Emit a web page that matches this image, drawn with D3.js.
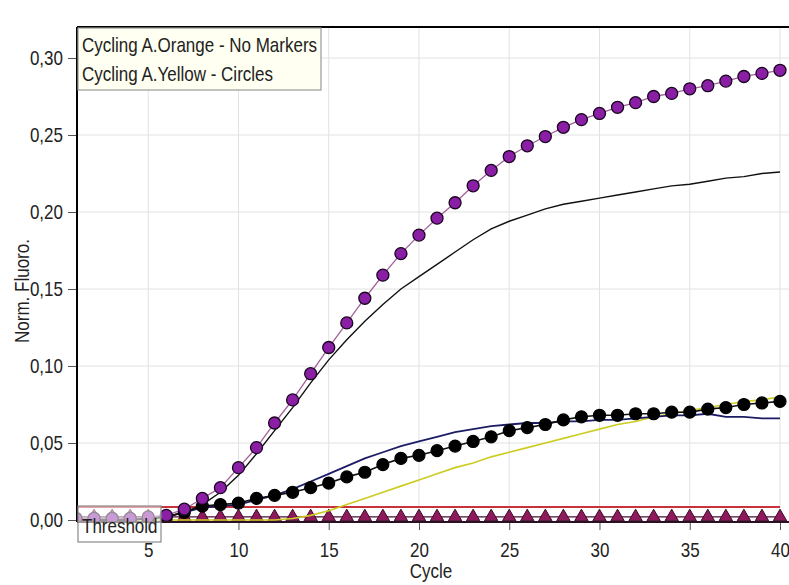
<!DOCTYPE html>
<html>
<head>
<meta charset="utf-8">
<script src="https://cdn.jsdelivr.net/npm/d3@7/dist/d3.min.js"></script>
<style>
  html, body { margin: 0; padding: 0; background: #fff; }
  svg { display: block; }
  text { font-family: "Liberation Sans", Arial, sans-serif; }
</style>
</head>
<body>
<svg id="chart" width="789" height="585"></svg>
<script>
// Amplification curves, normalised fluorescence per cycle
const cycles = [1,2,3,4,5,6,7,8,9,10,11,12,13,14,15,16,17,18,19,20,
                21,22,23,24,25,26,27,28,29,30,31,32,33,34,35,36,37,38,39,40];

// Cycling A.Yellow - circles (purple sample)
const yellowPurple = [0.001,0.001,0.001,0.001,0.002,0.003,0.007,0.014,0.021,0.034,
                      0.047,0.063,0.078,0.095,0.112,0.128,0.144,0.159,0.173,0.185,
                      0.196,0.206,0.217,0.227,0.236,0.243,0.249,0.255,0.260,0.264,
                      0.268,0.271,0.275,0.277,0.280,0.282,0.285,0.288,0.290,0.292];
// Cycling A.Yellow - circles (black sample)
const yellowBlack = [0.001,0.001,0.001,0.001,0.001,0.002,0.005,0.009,0.010,0.011,
                     0.014,0.016,0.018,0.021,0.024,0.028,0.031,0.036,0.040,0.042,
                     0.045,0.048,0.051,0.054,0.058,0.060,0.062,0.065,0.067,0.068,
                     0.068,0.069,0.069,0.070,0.070,0.072,0.073,0.075,0.076,0.077];
// Cycling A.Yellow - triangles (negative control)
const yellowNeg = [0.002,0.002,0.002,0.002,0.002,0.002,0.002,0.002,0.002,0.002,
                   0.002,0.002,0.002,0.002,0.002,0.002,0.002,0.002,0.002,0.002,
                   0.002,0.002,0.002,0.002,0.002,0.002,0.002,0.002,0.002,0.002,
                   0.002,0.002,0.002,0.002,0.002,0.002,0.002,0.002,0.002,0.002];
// Cycling A.Orange - no markers
const orangeBlack = [0.000,0.000,0.000,0.000,0.001,0.002,0.005,0.010,0.018,0.029,
                     0.043,0.058,0.073,0.089,0.104,0.117,0.129,0.140,0.150,0.158,
                     0.166,0.174,0.182,0.189,0.194,0.198,0.202,0.205,0.207,0.209,
                     0.211,0.213,0.215,0.217,0.218,0.220,0.222,0.223,0.225,0.226];
const orangeNavy = [0.000,0.000,0.000,0.000,0.001,0.002,0.005,0.008,0.009,0.010,
                    0.013,0.016,0.020,0.025,0.030,0.035,0.040,0.044,0.048,0.051,
                    0.054,0.057,0.059,0.061,0.062,0.063,0.063,0.064,0.064,0.065,
                    0.065,0.066,0.067,0.068,0.068,0.069,0.067,0.067,0.066,0.066];
const orangeYellow = [0.000,0.000,0.000,0.000,0.000,0.000,0.000,0.000,0.000,0.000,
                      0.000,0.000,0.001,0.003,0.006,0.010,0.014,0.018,0.022,0.026,
                      0.030,0.034,0.037,0.041,0.044,0.047,0.050,0.053,0.056,0.059,
                      0.062,0.064,0.067,0.069,0.071,0.073,0.075,0.077,0.078,0.080];

const threshold = 0.0085;

const yTicks = [0, 0.05, 0.10, 0.15, 0.20, 0.25, 0.30];
const yTickLabels = ["0,00","0,05","0,10","0,15","0,20","0,25","0,30"];
const xTicks = [5, 10, 15, 20, 25, 30, 35, 40];
const legendLines = ["Cycling A.Orange - No Markers", "Cycling A.Yellow - Circles"];

const FONT_SIZE = 20;
const SQUEEZE = 0.85;   // condensed glyphs, as in the instrument software

const svg = d3.select("#chart");
const plot = { left: 77, right: 792, top: 27, bottom: 522 };

const x = d3.scaleLinear().domain([1, 40]).range([76, 780]);
const y = d3.scaleLinear().domain([0, 0.30]).range([520, 58]);

// narrow a text horizontally around its own anchor point
function condense(sel) {
  sel.each(function () {
    const t = d3.select(this);
    const tx = +t.attr("x") || 0, ty = +t.attr("y") || 0;
    t.attr("x", 0).attr("y", 0)
     .attr("transform", `translate(${tx},${ty}) scale(${SQUEEZE},1)`);
  });
}

// clip region for the data
svg.append("defs").append("clipPath").attr("id", "plotClip")
  .append("rect")
  .attr("x", plot.left).attr("y", plot.top)
  .attr("width", plot.right - plot.left).attr("height", plot.bottom - plot.top);

// grid
const grid = svg.append("g");
grid.selectAll("line.v").data(xTicks).join("line")
  .attr("x1", d => x(d)).attr("x2", d => x(d))
  .attr("y1", plot.top).attr("y2", plot.bottom)
  .attr("stroke", "#e2e2e2").attr("stroke-width", 1);
grid.selectAll("line.h").data(yTicks.slice(1)).join("line")
  .attr("x1", plot.left).attr("x2", plot.right)
  .attr("y1", d => y(d)).attr("y2", d => y(d))
  .attr("stroke", "#e2e2e2").attr("stroke-width", 1);

// axes
const yAxis = d3.axisLeft(y).tickValues(yTicks)
  .tickFormat((d, i) => yTickLabels[i]).tickSize(9).tickPadding(5);
const gy = svg.append("g").attr("transform", `translate(${plot.left},0)`).call(yAxis);
gy.select(".domain").remove();
gy.selectAll(".tick line").attr("stroke", "#555");
gy.selectAll(".tick text").attr("font-size", FONT_SIZE).attr("fill", "#222")
  .attr("font-family", "Liberation Sans, Arial, sans-serif").call(condense);

const xAxis = d3.axisBottom(x).tickValues(xTicks).tickSize(8).tickPadding(13);
const gx = svg.append("g").attr("transform", `translate(0,${plot.bottom})`).call(xAxis);
gx.select(".domain").remove();
gx.selectAll(".tick line").attr("stroke", "#555");
gx.selectAll(".tick text").attr("font-size", FONT_SIZE).attr("fill", "#222")
  .attr("font-family", "Liberation Sans, Arial, sans-serif").call(condense);

// data layer
const data = svg.append("g").attr("clip-path", "url(#plotClip)");
const pts = vals => cycles.map((c, i) => [c, vals[i]]);
const line = d3.line().x(d => x(d[0])).y(d => y(d[1]));

// threshold
data.append("line")
  .attr("x1", plot.left).attr("x2", x(40))
  .attr("y1", y(threshold)).attr("y2", y(threshold))
  .attr("stroke", "#c8323a").attr("stroke-width", 2);

// negative control triangles
data.append("path").datum(pts(yellowNeg)).attr("d", line)
  .attr("fill", "none").attr("stroke", "#4a0f33").attr("stroke-width", 1.2);
data.selectAll("path.tri").data(pts(yellowNeg)).join("path")
  .attr("class", "tri")
  .attr("transform", d => `translate(${x(d[0])},${y(d[1])})`)
  .attr("d", d3.symbol(d3.symbolTriangle, 78)())
  .attr("fill", "#8e1a5c").attr("stroke", "#3a0a26").attr("stroke-width", 1);

// orange channel curves (no markers)
data.append("path").datum(pts(orangeYellow)).attr("d", line)
  .attr("fill", "none").attr("stroke", "#cccc22").attr("stroke-width", 1.6);
data.append("path").datum(pts(orangeNavy)).attr("d", line)
  .attr("fill", "none").attr("stroke", "#1c1c66").attr("stroke-width", 1.8);
data.append("path").datum(pts(orangeBlack)).attr("d", line)
  .attr("fill", "none").attr("stroke", "#111").attr("stroke-width", 1.4);

// black circles
data.append("path").datum(pts(yellowBlack)).attr("d", line)
  .attr("fill", "none").attr("stroke", "#111").attr("stroke-width", 1.6);
data.selectAll("circle.blk").data(pts(yellowBlack)).join("circle")
  .attr("class", "blk")
  .attr("cx", d => x(d[0])).attr("cy", d => y(d[1])).attr("r", 6)
  .attr("fill", "#000").attr("stroke", "#000").attr("stroke-width", 1.2);

// purple circles
data.append("path").datum(pts(yellowPurple)).attr("d", line)
  .attr("fill", "none").attr("stroke", "#a2609a").attr("stroke-width", 1.3);
data.selectAll("circle.pur").data(pts(yellowPurple)).join("circle")
  .attr("class", "pur")
  .attr("cx", d => x(d[0])).attr("cy", d => y(d[1])).attr("r", 6)
  .attr("fill", "#8a1fa6").attr("stroke", "#1a0520").attr("stroke-width", 1.3);

// frame
svg.append("line").attr("x1", plot.left).attr("x2", plot.left)
  .attr("y1", plot.top).attr("y2", plot.bottom)
  .attr("stroke", "#000").attr("stroke-width", 2);
svg.append("line").attr("x1", plot.left).attr("x2", plot.right)
  .attr("y1", plot.top).attr("y2", plot.top)
  .attr("stroke", "#000").attr("stroke-width", 2);
svg.append("line").attr("x1", plot.left).attr("x2", plot.right)
  .attr("y1", plot.bottom).attr("y2", plot.bottom)
  .attr("stroke", "#2a1020").attr("stroke-width", 2);

// legend
const lg = svg.append("g");
lg.append("rect").attr("x", 78).attr("y", 28).attr("width", 243).attr("height", 62)
  .attr("fill", "#fffff2").attr("stroke", "#9a9a9a").attr("stroke-width", 1.2);
lg.selectAll("text").data(legendLines).join("text")
  .attr("x", 82).attr("y", (d, i) => 52 + i * 29)
  .attr("font-size", FONT_SIZE).attr("fill", "#222").text(d => d)
  .call(condense);

// threshold label
const tg = svg.append("g");
tg.append("rect").attr("x", 78).attr("y", 506).attr("width", 83).attr("height", 36)
  .attr("fill", "#ffffff").attr("fill-opacity", 0.55)
  .attr("stroke", "#8a8a8a").attr("stroke-width", 1.2);
tg.append("text").attr("x", 82).attr("y", 533)
  .attr("font-size", FONT_SIZE).attr("fill", "#222").text("Threshold")
  .call(condense);

// axis titles
svg.append("text").attr("x", 431).attr("y", 578).attr("text-anchor", "middle")
  .attr("font-size", FONT_SIZE).attr("fill", "#222").text("Cycle")
  .call(condense);
svg.append("g").attr("transform", "translate(29,291) rotate(-90)")
  .append("text").attr("text-anchor", "middle")
  .attr("font-size", FONT_SIZE).attr("fill", "#222").text("Norm. Fluoro.")
  .call(condense);
</script>
</body>
</html>
